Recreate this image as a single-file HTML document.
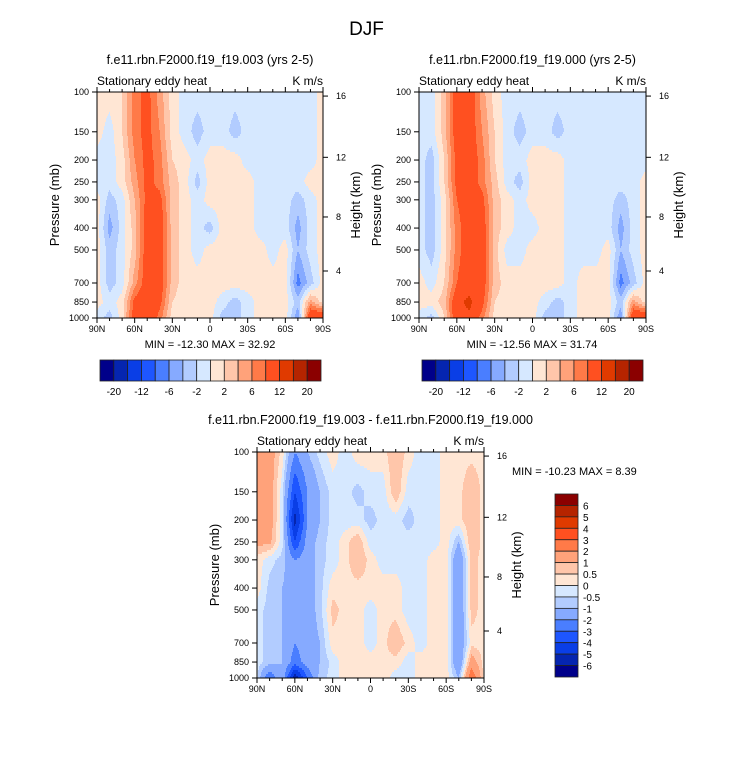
<!DOCTYPE html>
<html><head><meta charset="utf-8">
<style>
body{margin:0;background:#fff;font-family:"Liberation Sans",sans-serif;}
#root{position:relative;width:733px;height:774px;overflow:hidden;}
.t{position:absolute;white-space:nowrap;color:#000;}
</style></head>
<body><div id="root">
<div class="t" style="left:0;width:733px;text-align:center;top:19px;font-size:19px">DJF</div>
<svg id="svg" width="733" height="774" style="position:absolute;left:0;top:0"></svg>
</div>
<script>
const lats=[90,80,70,60,50,40,30,20,10,0,-10,-20,-30,-40,-50,-60,-70,-80,-90];
const pres=[100,150,200,250,300,400,500,700,850,1000];
const xTickLabels=["90N","60N","30N","0","30S","60S","90S"];
const pTickLabels=[100,150,200,250,300,400,500,700,850,1000];
const zTickLabels=[16,12,8,4];
const topLevels=[-20,-16,-12,-8,-6,-4,-2,0,2,4,6,8,12,16,20];
const topLevelLabels=["-20","-12","-6","-2","2","6","12","20"];
const diffLevels=[-6,-5,-4,-3,-2,-1,-0.5,0,0.5,1,2,3,4,5,6];
const diffLevelLabels=["6","5","4","3","2","1","0.5","0","-0.5","-1","-2","-3","-4","-5","-6"];
const colors=["#00008a","#0525b0","#0a3ee6","#1e56ff","#4a7eff","#86aaff","#b2ccff","#d6e8ff","#ffe6d4","#ffc6aa","#ffa27a","#ff7a48","#ff5020","#e03a00","#b52400","#8b0000"];
const data1=[
[1,1,2,7,9,5,1,-1,-1,-1,-1,-1,-1,-1,-1,-1,-1,-1,1],
[1,-1,2,7,9,6,1,-1,-3,-1,-1,-3,-1,-1,-1,-1,-1,-1,1],
[-1,-1,1,6,9,7,2,1,-1,1,1,1,-1,-1,-1,-1,-1,-1,1],
[-1,-1,1,5,9,7,3,1,-3,1,1,1,1,-1,-1,-1,-1,1,1],
[1,-3,-1,4,9,9,3,1,-1,1,1,1,1,-1,-1,-1,-3,-1,1],
[1,-5,-1,3,10,10,3,1,-1,-3,1,1,1,-1,-1,-1,-5,-1,1],
[1,-3,-1,3,10,10,3,1,-1,1,1,1,1,1,-1,1,-4,-1,1],
[1,-3,-1,5,10,10,3,1,1,1,1,1,1,1,1,1,-7,-3,1],
[1,-1,1,9,11,9,2,1,1,1,-1,-3,-1,1,1,1,-3,5,1],
[-1,-3,1,10,11,7,1,1,1,1,-3,-3,-1,1,1,1,-6,12,12]];
const data2=[
[-1,-1,3,10,10,5,1,-1,-1,-1,-1,-1,-1,-1,-1,-1,-1,-1,-1],
[-1,-1,3,10,10,6,2,-1,-3,-1,-1,-3,-1,-1,-1,-1,-1,-1,-1],
[-1,-3,2,9,10,7,2,-1,-1,1,1,1,-1,-1,-1,-1,-1,-1,-1],
[-1,-3,2,9,10,7,3,-1,-3,1,1,1,-1,-1,-1,-1,-1,-1,1],
[-1,-3,1,8,10,9,3,1,-1,1,1,1,-1,-1,-1,-1,-3,-1,1],
[-1,-3,1,7,10,10,3,1,-1,-1,1,1,-1,-1,-1,-1,-5,-1,1],
[-1,-3,1,7,10,10,3,-1,-1,1,1,1,-1,-1,-1,1,-4,-1,1],
[1,-1,2,8,10,10,3,1,1,1,1,1,-1,1,1,1,-7,-3,1],
[1,1,3,11,13,9,2,1,1,1,-1,-3,-1,1,1,1,-3,5,1],
[-1,-3,2,11,11,7,1,1,1,1,-3,-3,-1,1,1,1,-6,12,12]];
const dataDiff=[
[1.5,1.5,0.3,-2,-1,-0.3,0.3,-0.3,0.3,0.3,0.3,1,0.3,-0.3,-0.3,0.3,0.3,0.3,0.3],
[1.5,1.5,-0.3,-4,-2,-1,-0.3,-0.3,-0.7,-0.3,-0.3,1,-0.3,-0.3,-0.3,0.3,0.3,1,0.3],
[1.5,1.5,-0.3,-5.5,-2,-1,-0.3,-0.3,-0.3,-0.7,-0.3,-0.3,-0.7,-0.3,-0.3,0.3,0.3,1,0.3],
[1.2,1.2,-0.3,-4,-1.5,-0.7,-0.3,0.3,1,-0.3,-0.3,-0.3,-0.3,-0.3,-0.3,0.3,-1,1,0.3],
[0.3,-0.3,-0.7,-2,-1.5,-0.7,-0.3,0.3,1,0.3,-0.3,-0.3,-0.3,-0.3,0.3,0.3,-2,0.7,0.3],
[0.3,-0.7,-1,-1.5,-1.5,-0.7,0.3,0.3,0.3,0.3,0.3,0.3,-0.3,-0.3,0.3,0.3,-2,0.7,0.3],
[-0.3,-0.7,-1,-1.5,-1.5,-0.7,0.7,0.3,0.3,-0.3,0.3,0.3,-0.3,-0.3,0.3,0.3,-2,0.7,0.3],
[-0.3,-0.7,-1,-2,-1.5,-1,0.3,0.3,0.3,-0.3,0.3,1,0.3,-0.3,0.3,0.3,-2,0.3,0.3],
[-0.3,-0.7,-1,-2.5,-1.5,-1,-0.3,0.3,0.3,0.3,0.3,0.3,-0.3,0.3,0.3,0.3,-2,1.5,0.3],
[-0.3,-3,-1,-6,-3,-0.7,-0.3,0.3,0.3,0.3,0.3,-0.3,-0.3,0.3,0.3,0.3,-1,3,0.3]];

const NS="http://www.w3.org/2000/svg";
const svg=document.getElementById('svg');
function mk(tag,attrs,parent){const e=document.createElementNS(NS,tag);for(const k in attrs)e.setAttribute(k,attrs[k]);(parent||svg).appendChild(e);return e;}
function txt(x,y,s,size,anchor,parent,rot){const e=mk('text',{x:x,y:y,'font-size':size,'text-anchor':anchor||'middle','font-family':'Liberation Sans, sans-serif'},parent);if(rot)e.setAttribute('transform','rotate(-90 '+x+' '+y+')');e.textContent=s;return e;}
function colorFor(v,levels){let i=0;while(i<levels.length&&v>=levels[i])i++;return colors[i];}
const zFrac={16:0.018,12:0.289,8:0.553,4:0.792};

function panel(name,x0,y0,W,H,data,levels,title){
  const g=mk('g',{});
  
  
  const xs=lat=>x0+(90-lat)/180*W;
  const ys=p=>y0+Math.log10(p/100)*H;
  const vstep=2;
  const lp=pres.map(p=>Math.log10(p/100));
  for(let py=0;py<H;py+=vstep){
    const f=(py+vstep/2)/H;
    let r=0;while(r<lp.length-2&&f>lp[r+1])r++;
    const tr=Math.min(1,Math.max(0,(f-lp[r])/(lp[r+1]-lp[r])));
    let run=null;
    for(let px=0;px<=W;px++){
      let c=null;
      if(px<W){
        const lat=90-(px+0.5)/W*180;
        let ci=Math.min(17,Math.floor((90-lat)/10));
        const tc=((90-lat)-ci*10)/10;
        const a=data[r][ci]*(1-tc)+data[r][ci+1]*tc;
        const b=data[r+1][ci]*(1-tc)+data[r+1][ci+1]*tc;
        c=colorFor(a*(1-tr)+b*tr,levels);
      }
      if(run&&run.c===c){run.w+=1;continue;}
      if(run){mk('rect',{x:x0+run.x,y:y0+py,width:run.w+0.4,height:Math.min(vstep,H-py)+0.4,fill:run.c},g);}
      run=c?{x:px,w:1,c:c}:null;
    }
  }
  mk('rect',{x:x0,y:y0,width:W,height:H,fill:'none',stroke:'#000','stroke-width':1},g);
  const ax=mk('g',{},g);
  for(let lat=90;lat>=-90;lat-=10){
    const x=xs(lat);const major=lat%30===0;const L=major?5:3;
    mk('line',{x1:x,y1:y0+H,x2:x,y2:y0+H+L,stroke:'#000'},ax);
    mk('line',{x1:x,y1:y0,x2:x,y2:y0-L,stroke:'#000'},ax);
  }
  xTickLabels.forEach((s,i)=>{const t=txt(xs(90-i*30),y0+H+14,s,9,'middle',ax);});
  pTickLabels.forEach(p=>{const y=ys(p);mk('line',{x1:x0-5,y1:y,x2:x0,y2:y,stroke:'#000'},ax);
    const t=txt(x0-8,y+3,String(p),9,'end',ax);});
  zTickLabels.forEach(z=>{const y=y0+zFrac[z]*H;mk('line',{x1:x0+W,y1:y,x2:x0+W+5,y2:y,stroke:'#000'},ax);
    const t=txt(x0+W+13,y+3,String(z),9,'start',ax);});
  const lt=txt(x0,y0-7,'Stationary eddy heat',12,'start',g);
  const ut=txt(x0+W,y0-7,'K m/s',12,'end',g);
  const tt=txt(x0+W/2,y0-28,title,12.5,'middle',g);
  const yt=txt(x0-38,y0+H/2,'Pressure (mb)',13,'middle',g,true);
  const ht=txt(x0+W+37,y0+H/2,'Height (km)',13,'middle',g,true);
}
function hbar(name,x0,y0,W,H,levels,labels){
  const g=mk('g',{});
  const n=levels.length+1,bw=W/n;
  for(let i=0;i<n;i++)mk('rect',{x:x0+i*bw,y:y0,width:bw,height:H,fill:colors[i],stroke:'#222','stroke-width':0.8},g);
  labels.forEach((s,k)=>{const t=txt(x0+(1+2*k)*bw,y0+H+14,s,10,'middle',g);});
}
function vbar(name,x0,y0,W,H,levels,labels){
  const g=mk('g',{});
  const n=levels.length+1,bh=H/n;
  for(let i=0;i<n;i++)mk('rect',{x:x0,y:y0+i*bh,width:W,height:bh,fill:colors[n-1-i],stroke:'#222','stroke-width':0.8},g);
  labels.forEach((s,k)=>{const t=txt(x0+W+5,y0+(k+1)*bh+4,s,10,'start',g);});
}
panel('panel-f19-003',97,92,226,226,data1,topLevels,'f.e11.rbn.F2000.f19_f19.003 (yrs 2-5)');
panel('panel-f19-000',419,92,227,226,data2,topLevels,'f.e11.rbn.F2000.f19_f19.000 (yrs 2-5)');
panel('panel-difference',257,452,227,226,dataDiff,diffLevels,'f.e11.rbn.F2000.f19_f19.003 - f.e11.rbn.F2000.f19_f19.000');
let m=txt(210,348,'MIN = -12.30  MAX =  32.92',11,'middle');
m=txt(532,348,'MIN = -12.56  MAX =  31.74',11,'middle');
m=txt(512,475,'MIN = -10.23  MAX =   8.39',11,'start');
hbar('colorbar-left',100,360,221,21,topLevels,topLevelLabels);
hbar('colorbar-right',422,360,221,21,topLevels,topLevelLabels);
vbar('colorbar-difference',555,494,23,183,diffLevels,diffLevelLabels);
</script>
</body></html>
